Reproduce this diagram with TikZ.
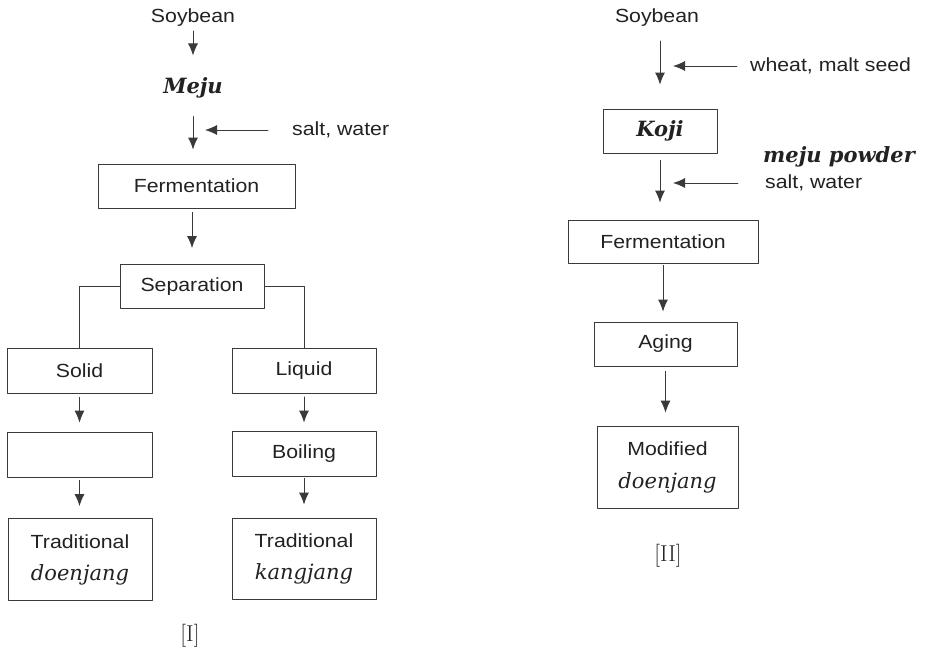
\documentclass[tikz,border=0pt]{standalone}
\usepackage{fontspec}
\setsansfont{Liberation Sans}[FakeStretch=1.12]
\newfontfamily\termfont{DejaVu Serif}
\usetikzlibrary{arrows.meta,calc,positioning}
\definecolor{chartInk}{HTML}{222222}
\definecolor{chartLine}{HTML}{3A3A3A}
\begin{document}
\begin{tikzpicture}[x=1pt,y=-1pt,>=Latex,line cap=round,line join=round]
\path[fill=white] (0,0) rectangle (927,648);
\tikzset{plain/.style={text=chartInk,font=\sffamily\fontsize{19}{23}\selectfont,inner sep=2pt},term/.style={text=chartInk,font=\termfont\bfseries\itshape\fontsize{21}{25}\selectfont,inner sep=2pt},stage/.style={plain,draw=chartLine,line width=0.9pt,align=center},flow/.style={draw=chartLine,line width=0.9pt,-{Latex[length=12pt,width=10pt]}},tag/.style={text=chartInk,font=\fontsize{23}{27}\selectfont}}
% process I
\node[plain] (soyA) at (193,18) {Soybean}; \node[term] (mejuA) at (193,88) {Meju};
\node[stage,minimum width=197pt,minimum height=44pt] (fermA) at (196.5,186) {Fermentation};
\node[stage,minimum width=144pt,minimum height=44pt] (sepA) at (192,286.5) {Separation};
\node[stage,minimum width=145pt,minimum height=45pt] (solidA) at (79.5,371) {Solid}; \node[stage,minimum width=144pt,minimum height=45pt] (liquidA) at (304,370.5) {Liquid};
\node[stage,minimum width=145pt,minimum height=45pt] (blankA) at (79.5,454.5) {}; \node[stage,minimum width=144pt,minimum height=45pt] (boilA) at (304,453.5) {Boiling};
\node[stage,minimum width=144pt,minimum height=82pt] (doenA) at (80,559.5) {Traditional\\[9pt]{\termfont\itshape\fontsize{21}{25}\selectfont doenjang}};
\node[stage,minimum width=144pt,minimum height=81pt] (kangA) at (304,558.5) {Traditional\\[9pt]{\termfont\itshape\fontsize{21}{25}\selectfont kangjang}};
\node[plain,anchor=west] (saltA) at (290,130) {salt, water}; \coordinate (joinA) at (205,130);
\node[tag] (labI) at (190,636) {[I]};
\draw[flow,shorten <=2pt,shorten >=20pt] (soyA.south) -- (soyA.south |- mejuA.north);
\draw[flow,shorten <=16pt,shorten >=14pt] (mejuA.south) -- (mejuA.south |- fermA.north);
\draw[flow,shorten <=22pt] (saltA.west) -- (joinA);
\draw[flow,shorten <=4pt,shorten >=16pt] (sepA.north |- fermA.south) -- (sepA.north);
\draw[draw=chartLine,line width=0.9pt] (sepA.west) -| (solidA.north); \draw[draw=chartLine,line width=0.9pt] (sepA.east) -| (liquidA.north);
\draw[flow,shorten <=3.5pt,shorten >=9pt] (solidA.south) -- (blankA.north); \draw[flow,shorten <=3pt,shorten >=12pt] (blankA.south) -- (blankA.south |- doenA.north);
\draw[flow,shorten <=3.5pt,shorten >=8pt] (liquidA.south) -- (boilA.north); \draw[flow,shorten <=2pt,shorten >=13pt] (boilA.south) -- (kangA.north);
% process II
\node[plain] (soyB) at (657,18) {Soybean};
\node[stage,minimum width=114pt,minimum height=44pt] (kojiB) at (660,131) {\termfont\bfseries\itshape\fontsize{21}{25}\selectfont Koji};
\node[stage,minimum width=190pt,minimum height=43pt] (fermB) at (663,241.5) {Fermentation};
\node[stage,minimum width=143pt,minimum height=44pt] (agingB) at (665.5,344) {Aging};
\node[stage,minimum width=141pt,minimum height=82pt] (modB) at (667.5,467) {Modified\\[10pt]{\termfont\itshape\fontsize{21}{25}\selectfont doenjang}};
\node[plain,anchor=west] (wheatB) at (748,66) {wheat, malt seed}; \coordinate (joinB) at (673,66);
\node[term,anchor=west] (powderB) at (761,157) {meju powder}; \node[plain,anchor=west] (saltB) at (763,183) {salt, water}; \coordinate (joinC) at (673,183);
\node[tag] (labII) at (668,556) {[II]};
\draw[flow,shorten <=12pt,shorten >=24pt] (kojiB.north |- soyB.south) -- (kojiB.north);
\draw[flow,shorten <=11pt] (wheatB.west) -- (joinB);
\draw[flow,shorten <=7pt,shorten >=17pt] (kojiB.south) -- (kojiB.south |- fermB.north);
\draw[flow,shorten <=25pt] (saltB.west) -- (joinC);
\draw[flow,shorten <=2pt,shorten >=10pt] (fermB.south) -- (fermB.south |- agingB.north);
\draw[flow,shorten <=5pt,shorten >=13pt] (agingB.south) -- (agingB.south |- modB.north);
\end{tikzpicture}
\end{document}
